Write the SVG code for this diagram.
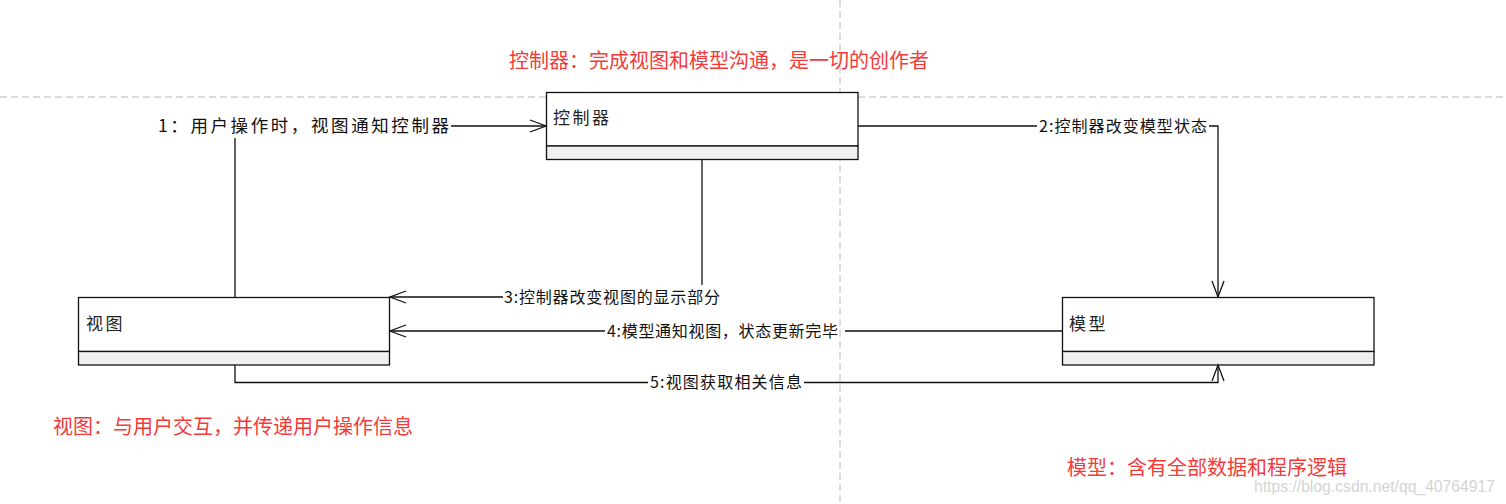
<svg xmlns="http://www.w3.org/2000/svg" width="1506" height="504" viewBox="0 0 1506 504">
<style>
.guide{stroke:#b8b8b8;stroke-width:1;stroke-dasharray:7 4;fill:none}
.box{fill:#fff;stroke:#111;stroke-width:1.3}
.comp{fill:#f0f0f0;stroke:#111;stroke-width:1.3}
.name{font-family:"Noto Sans CJK SC","Noto Sans",sans-serif;font-size:17px;fill:#222;letter-spacing:2.5px}
.lbl{font-family:"Noto Sans CJK SC","Noto Sans",sans-serif;font-size:16px;fill:#111}
.note{font-family:"Noto Sans CJK SC","Noto Sans",sans-serif;font-size:20px;fill:#f53a3a}
.wm{font-family:"Liberation Sans",Arial,sans-serif;font-size:16px;fill:#d4d4d4}
.conn{stroke:#111;stroke-width:1.3;fill:none}
.arr{stroke:#111;stroke-width:1.3;fill:none}
</style>
<rect width="1506" height="504" fill="#fff"/>
<g id="guides">
<line class="guide" x1="0" y1="97" x2="1506" y2="97"/>
<line class="guide" x1="840" y1="0" x2="840" y2="504"/>
</g>
<g id="controller">
<rect class="box" x="546.5" y="92.5" width="311.5" height="53.5"/>
<rect class="comp" x="546.5" y="146" width="311.5" height="13.5"/>
<text class="name" x="553" y="124">控制器</text>
</g>
<g id="view">
<rect class="box" x="78.5" y="297.5" width="311" height="54"/>
<rect class="comp" x="78.5" y="351.5" width="311" height="13.5"/>
<text class="name" x="86" y="330">视图</text>
</g>
<g id="model">
<rect class="box" x="1062.5" y="297.5" width="311.5" height="54"/>
<rect class="comp" x="1062.5" y="351.5" width="311.5" height="13.5"/>
<text class="name" x="1069" y="330">模型</text>
</g>
<g id="connectors">
<path class="conn" d="M235,297 V138 M451,126 H546"/>
<path class="arr" d="M530,120 L546,126 L530,132"/>
<text class="lbl" x="158" y="131.5" textLength="291" lengthAdjust="spacing" style="font-size:17.5px">1：用户操作时，视图通知控制器</text>
<path class="conn" d="M858,126 H1037 M1209,126 H1218 V297"/>
<path class="arr" d="M1212,281 L1218,297 L1224,281"/>
<text class="lbl" x="1039" y="131.5" textLength="168" lengthAdjust="spacing">2:控制器改变模型状态</text>
<path class="conn" d="M702,160 V285 M503,297 H390"/>
<path class="arr" d="M406,291 L390,297 L406,303"/>
<text class="lbl" x="504" y="302.5" textLength="216" lengthAdjust="spacing">3:控制器改变视图的显示部分</text>
<path class="conn" d="M1062,331 H845 M605,331 H390"/>
<path class="arr" d="M406,325 L390,331 L406,337"/>
<text class="lbl" x="607" y="336.5" textLength="231" lengthAdjust="spacing">4:模型通知视图，状态更新完毕</text>
<path class="conn" d="M235,365 V382.5 H648 M804,382.5 H1218 V365"/>
<path class="arr" d="M1212,381 L1218,365 L1224,381"/>
<text class="lbl" x="650" y="388" textLength="152" lengthAdjust="spacing">5:视图获取相关信息</text>
</g>
<g id="notes">
<text class="note" x="509" y="67.5">控制器：完成视图和模型沟通，是一切的创作者</text>
<text class="note" x="53" y="434">视图：与用户交互，并传递用户操作信息</text>
<text class="note" x="1067" y="475">模型：含有全部数据和程序逻辑</text>
<text class="wm" x="1254" y="492" textLength="241" lengthAdjust="spacingAndGlyphs">https://blog.csdn.net/qq_40764917</text>
</g>
</svg>
